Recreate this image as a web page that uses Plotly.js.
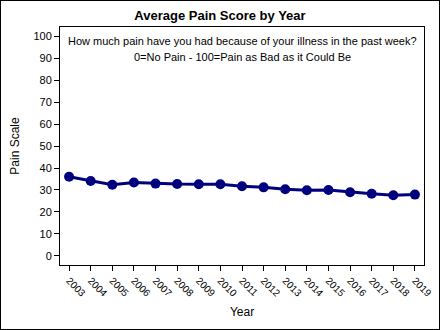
<!DOCTYPE html>
<html><head><meta charset="utf-8">
<script src="https://cdn.plot.ly/plotly-3.0.1.min.js"></script>
<style>
html,body{margin:0;padding:0;background:#fff;}
#wrap{width:440px;height:330px;border:1px solid #000;box-sizing:border-box;}
#chart{width:438px;height:328px;}
</style></head><body>
<div id="wrap"><div id="chart"></div></div>
<script>
const years = [2003,2004,2005,2006,2007,2008,2009,2010,2011,2012,2013,2014,2015,2016,2017,2018,2019];
const painScores = [36.0,34.1,32.4,33.4,32.9,32.7,32.6,32.6,31.7,31.2,30.3,29.9,30.0,29.0,28.3,27.6,27.9];
const yTicks = [0,10,20,30,40,50,60,70,80,90,100];
const noteLines = ['How much pain have you had because of your illness in the past week?', '0=No Pain - 100=Pain as Bad as it Could Be'];

const font = {family:'"Liberation Sans", Arial, sans-serif', color:'#000'};
const trace = {
  x: years, y: painScores, type:'scatter', mode:'lines+markers',
  line:{color:'#00007f', width:3},
  marker:{color:'#00007f', size:10},
  hoverinfo:'skip'
};
const layout = {
  width:438, height:328,
  margin:{l:59, r:15, t:26, b:64},
  paper_bgcolor:'#fff', plot_bgcolor:'#fff',
  font:Object.assign({size:11}, font),
  showlegend:false,
  title:{text:'<b>Average Pain Score by Year</b>', font:Object.assign({size:13}, font), x:0.5, xanchor:'center', y:0.955, yanchor:'middle', yref:'container'},
  xaxis:{
    range:[2002.58, 2019.42], tickvals:years, ticktext:years.map(String),
    tickangle:45, ticks:'outside', ticklen:5, tickcolor:'#000', tickwidth:1,
    showline:true, linecolor:'#000', linewidth:1, mirror:true, showgrid:false, zeroline:false,
    tickfont:Object.assign({size:10}, font),
    title:{text:'Year', font:Object.assign({size:12}, font), standoff:9}
  },
  yaxis:{
    range:[-4.1, 104.1], tickvals:yTicks, ticks:'outside', ticklen:5, tickcolor:'#000', tickwidth:1,
    showline:true, linecolor:'#000', linewidth:1, mirror:true, showgrid:false, zeroline:false,
    tickfont:Object.assign({size:11}, font),
    title:{text:'Pain Scale', font:Object.assign({size:12}, font), standoff:11}
  },
  annotations:[
    {xref:'paper', yref:'paper', x:0.5, y:0.941, xanchor:'center', yanchor:'middle',
     text:noteLines[0], showarrow:false, font:Object.assign({size:11}, font)},
    {xref:'paper', yref:'paper', x:0.5, y:0.874, xanchor:'center', yanchor:'middle',
     text:noteLines[1], showarrow:false, font:Object.assign({size:11}, font)}
  ]
};
Plotly.newPlot('chart',[trace],layout,{staticPlot:true, displayModeBar:false});
</script></body></html>
